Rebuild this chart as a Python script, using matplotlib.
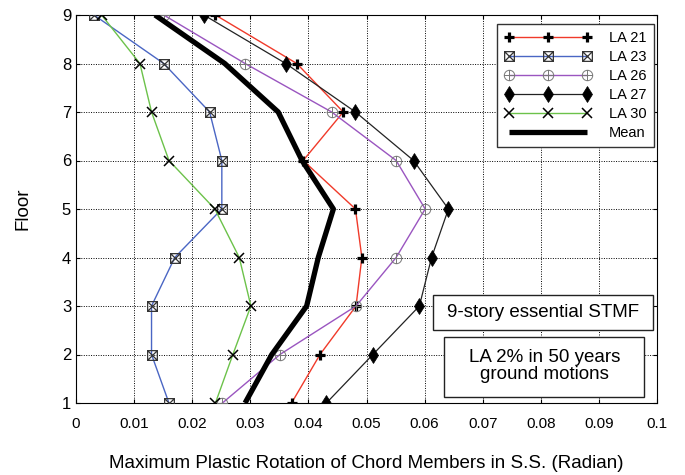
import matplotlib
matplotlib.use("Agg")
import matplotlib.pyplot as plt
from matplotlib.path import Path
from matplotlib.patches import Rectangle

plt.rcParams['font.family'] = ['Liberation Sans', 'DejaVu Sans']

floors = [1, 2, 3, 4, 5, 6, 7, 8, 9]
la21 = [0.0371, 0.0420, 0.0482, 0.0492, 0.0481, 0.0391, 0.0460, 0.0380, 0.0240]
la23 = [0.0160, 0.0130, 0.0130, 0.0170, 0.0251, 0.0251, 0.0230, 0.0151, 0.0031]
la26 = [0.0252, 0.0351, 0.0482, 0.0551, 0.0601, 0.0551, 0.0440, 0.0291, 0.0151]
la27 = [0.0431, 0.0511, 0.0591, 0.0612, 0.0641, 0.0581, 0.0481, 0.0361, 0.0220]
la30 = [0.0240, 0.0270, 0.0301, 0.0281, 0.0239, 0.0160, 0.0130, 0.0110, 0.0044]
mean = [0.0291, 0.0337, 0.0397, 0.0417, 0.0443, 0.0389, 0.0348, 0.0256, 0.0136]
xticks = [0, 0.01, 0.02, 0.03, 0.04, 0.05, 0.06, 0.07, 0.08, 0.09, 0.1]
xticklabels = ['0', '0.01', '0.02', '0.03', '0.04', '0.05', '0.06', '0.07', '0.08', '0.09', '0.1']

# square with a diagonal cross
M, L, C = Path.MOVETO, Path.LINETO, Path.CLOSEPOLY
box_x = Path([(-1, -1), (1, -1), (1, 1), (-1, 1), (-1, -1),
              (-1, -1), (1, 1), (-1, 1), (1, -1)],
             [M, L, L, L, C, M, L, M, L])
# circle with a plus
circ_plus = Path.make_compound_path(
    Path.unit_circle(),
    Path([(-1, 0), (1, 0)], [M, L]),
    Path([(0, -1), (0, 1)], [M, L]))

fig = plt.figure(figsize=(6.85, 4.75), dpi=100)
ax = fig.add_axes([76 / 685, 1 - 403 / 475, (657 - 76) / 685, (403 - 15) / 475])

ax.plot(la21, floors, color='#f03a2a', lw=1.0, marker='+', ms=7.5, mew=2.3,
        mec='black', label='LA 21', zorder=3)
ax.plot(la23, floors, color='#4a66c4', lw=1.0, marker=box_x, ms=7, mew=0.9,
        mec='#333333', mfc='none', label='LA 23', zorder=3)
ax.plot(la26, floors, color='#9a55c0', lw=1.0, marker=circ_plus, ms=7.5, mew=0.7,
        mec='#777777', mfc='none', label='LA 26', zorder=3)
ax.plot(la27, floors, color='#222222', lw=0.9, marker='d', ms=8.5, mew=0.5,
        mec='black', mfc='black', label='LA 27', zorder=3)
ax.plot(la30, floors, color='#6cc24a', lw=1.0, marker='x', ms=7, mew=1.1,
        mec='black', label='LA 30', zorder=3)
ax.plot(mean, floors, color='black', lw=3.8, label='Mean', zorder=4,
        solid_capstyle='butt')

ax.set_xlim(0, 0.1)
ax.set_ylim(1, 9)
ax.set_xticks(xticks)
ax.set_xticklabels(xticklabels)
ax.set_yticks(floors)
ax.tick_params(direction='in', length=3, top=True, right=True)
ax.tick_params(axis='x', labelsize=11, pad=10)
ax.tick_params(axis='y', labelsize=12, pad=3.5)
ax.grid(True, color='black', linestyle=(0, (1, 1.5)), linewidth=0.7)
for s in ax.spines.values():
    s.set_linewidth(0.8)

ax.set_xlabel('Maximum Plastic Rotation of Chord Members in S.S. (Radian)',
              fontsize=13.5, labelpad=17)
ax.set_ylabel('Floor', fontsize=13.5, labelpad=22)

leg = ax.legend(loc='upper right', bbox_to_anchor=(0.995, 0.977), borderaxespad=0,
                numpoints=3, handlelength=6.0, fontsize=10.5, fancybox=False,
                framealpha=1, edgecolor='#333333', borderpad=0.5, labelspacing=0.34,
                handletextpad=1.2)
leg.get_frame().set_linewidth(1.0)

# annotation boxes (axes-fraction coordinates)
for (x0, y0, x1, y1) in [(0.614, 0.188, 0.993, 0.278), (0.634, 0.016, 0.978, 0.171)]:
    ax.add_patch(Rectangle((x0, y0), x1 - x0, y1 - y0, transform=ax.transAxes,
                           facecolor='white', edgecolor='#222222', lw=1.0, zorder=5))
ax.text((0.614 + 0.993) / 2, 0.233, '9-story essential STMF', fontsize=13.5,
        ha='center', va='center', transform=ax.transAxes, zorder=6)
ax.text((0.634 + 0.978) / 2, 0.095, 'LA 2% in 50 years\nground motions', fontsize=13.5,
        ha='center', va='center', transform=ax.transAxes, zorder=6, linespacing=1.0)

fig.savefig('out.png', dpi=100)
